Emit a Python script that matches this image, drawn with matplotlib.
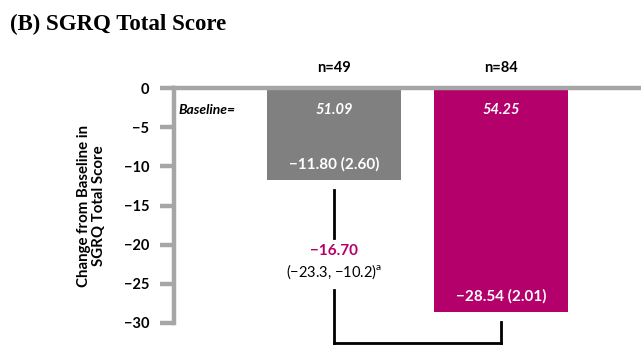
import matplotlib
matplotlib.use("Agg")
import matplotlib.pyplot as plt

# Data
groups = ["Placebo", "Treatment"]
n_labels = ["n=49", "n=84"]
baselines = ["51.09", "54.25"]
means = [-11.80, -28.54]
ses = [2.60, 2.01]
diff = -16.70
ci = (-23.3, -10.2)
yticks = [0, -5, -10, -15, -20, -25, -30]
colors = ["#808080", "#B4006B"]

plt.rcParams['font.family'] = ['Lato', 'DejaVu Sans']

fig = plt.figure(figsize=(6.41, 3.45), dpi=100)
ax = fig.add_axes([174/641, 22/345, 467/641, 235/345])

x = [0, 1]
ax.bar(x, means, width=0.80, color=colors, zorder=2)
ax.set_xlim(-0.958, 1.838)
ax.set_ylim(-30, 0)

spine_col = "#A6A6A6"
for s in ["right", "bottom"]:
    ax.spines[s].set_visible(False)
ax.spines["left"].set_color(spine_col)
ax.spines["left"].set_linewidth(3.2)
ax.spines["top"].set_color(spine_col)
ax.spines["top"].set_linewidth(3.2)
ax.spines["top"].set_zorder(3)
ax.set_xticks([])
ax.set_yticks(yticks)
ax.set_yticklabels([("\u2212" + str(abs(t))) if t < 0 else str(t) for t in yticks],
                   fontweight="bold", fontsize=10.5)
ax.tick_params(axis="y", length=10, width=3.2, color=spine_col, pad=8)

ax.set_ylabel("Change from Baseline in\nSGRQ Total Score", fontweight="bold", fontsize=10.8,
              linespacing=1.1)
ax.yaxis.set_label_coords(-0.145, 0.5)

def fmt(v):
    return ("\u2212" if v < 0 else "") + f"{abs(v):.2f}"

for xi, n, b, m, s in zip(x, n_labels, baselines, means, ses):
    ax.text(xi, 2.55, n, ha="center", va="center", fontweight="bold", fontsize=10.5, clip_on=False)
    ax.text(xi, -2.8, b, ha="center", va="center", color="white", fontstyle="italic",
            fontweight="bold", fontsize=10.5, zorder=4)
    ax.text(xi, m + 2.0, f"{fmt(m)} ({s:.2f})", ha="center", va="center", color="white",
            fontweight="bold", fontsize=11, zorder=4)

ax.text(0.01, -2.8, "Baseline=", transform=ax.get_yaxis_transform(), ha="left", va="center",
        fontstyle="italic", fontweight="bold", fontsize=10)

# Bracket for difference
lc = "black"
lw = 2.0
ax.plot([0, 0], [-13.0, -19.2], color=lc, lw=lw, clip_on=False)
ax.plot([0, 0], [-25.8, -32.6], color=lc, lw=lw, clip_on=False, solid_capstyle="projecting")
ax.plot([0, 1], [-32.6, -32.6], color=lc, lw=lw, clip_on=False, solid_capstyle="projecting")
ax.plot([1, 1], [-29.9, -32.6], color=lc, lw=lw, clip_on=False, solid_capstyle="projecting")

ax.text(0, -20.8, fmt(diff), ha="center", va="center", color=colors[1], fontweight="bold",
        fontsize=11)
ax.text(0, -23.4, f"(\u2212{abs(ci[0]):.1f}, \u2212{abs(ci[1]):.1f})$^{{\\mathregular{{a}}}}$",
        ha="center", va="center", fontsize=10.5)

fig.text(10/641, 1 - 24/345, "(B) SGRQ Total Score", family="Liberation Serif",
         fontweight="bold", fontsize=16.5, ha="left", va="center")

fig.savefig("out.png", dpi=100)
